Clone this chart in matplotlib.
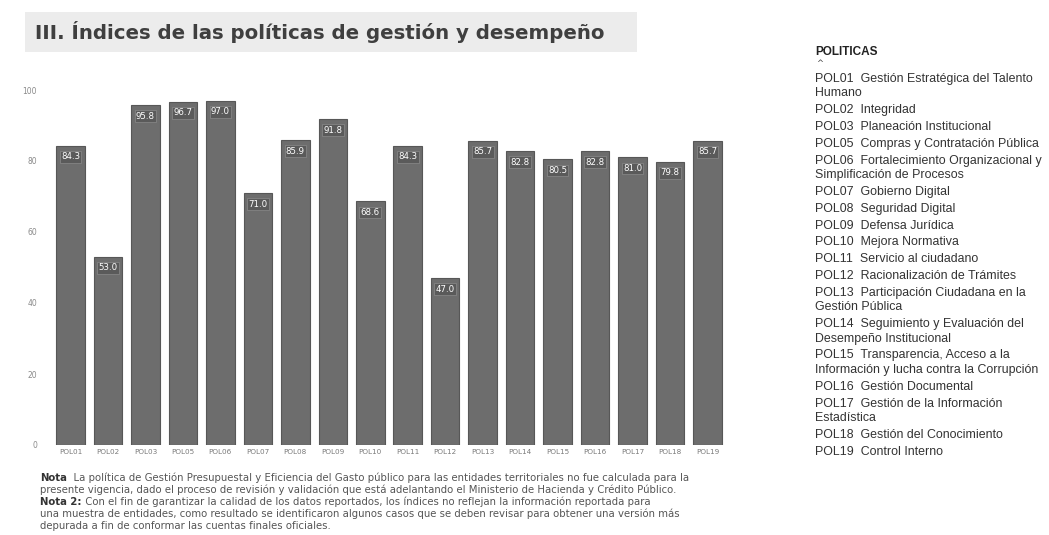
import matplotlib
matplotlib.use("Agg")
import matplotlib.pyplot as plt
from matplotlib.patches import Rectangle

# ---- data ----
politicas = ["POL01", "POL02", "POL03", "POL05", "POL06", "POL07", "POL08", "POL09", "POL10",
             "POL11", "POL12", "POL13", "POL14", "POL15", "POL16", "POL17", "POL18", "POL19"]
indices = [84.3, 53.0, 95.8, 96.7, 97.0, 71.0, 85.9, 91.8, 68.6,
           84.3, 47.0, 85.7, 82.8, 80.5, 82.8, 81.0, 79.8, 85.7]
y_ticks = [0, 20, 40, 60, 80, 100]
descripciones = [
    ["Gestión Estratégica del Talento", "Humano"],
    ["Integridad"],
    ["Planeación Institucional"],
    ["Compras y Contratación Pública"],
    ["Fortalecimiento Organizacional y", "Simplificación de Procesos"],
    ["Gobierno Digital"],
    ["Seguridad Digital"],
    ["Defensa Jurídica"],
    ["Mejora Normativa"],
    ["Servicio al ciudadano"],
    ["Racionalización de Trámites"],
    ["Participación Ciudadana en la", "Gestión Pública"],
    ["Seguimiento y Evaluación del", "Desempeño Institucional"],
    ["Transparencia, Acceso a la", "Información y lucha contra la Corrupción"],
    ["Gestión Documental"],
    ["Gestión de la Información", "Estadística"],
    ["Gestión del Conocimiento"],
    ["Control Interno"],
]
titulo = "III. Índices de las políticas de gestión y desempeño"
notas = [
    ("Nota", "  La política de Gestión Presupuestal y Eficiencia del Gasto público para las entidades territoriales no fue calculada para la"),
    ("", "presente vigencia, dado el proceso de revisión y validación que está adelantando el Ministerio de Hacienda y Crédito Público."),
    ("Nota 2:", " Con el fin de garantizar la calidad de los datos reportados, los índices no reflejan la información reportada para"),
    ("", "una muestra de entidades, como resultado se identificaron algunos casos que se deben revisar para obtener una versión más"),
    ("", "depurada a fin de conformar las cuentas finales oficiales."),
]

W, H = 1049, 535
fig = plt.figure(figsize=(W / 100, H / 100), dpi=100)
fig.patch.set_facecolor("white")

def fx(px):
    return px / W

def fy(py):
    return 1 - py / H

# title band
fig.patches.append(Rectangle((fx(25), fy(52)), fx(612), 40 / H, transform=fig.transFigure,
                             facecolor="#ececec", edgecolor="none", zorder=0))
fig.text(fx(35), fy(32), titulo, fontsize=14.2, fontweight="bold", color="#3f3f3f",
         va="center", ha="left", family="DejaVu Sans")

# bar chart
ax = fig.add_axes([fx(48), fy(445), fx(682), 355 / H])
x = list(range(len(politicas)))
ax.bar(x, indices, width=0.76, color="#6d6d6d", edgecolor="#575757", linewidth=0.8)
ax.set_xlim(-0.6, len(politicas) - 0.4)
ax.set_ylim(0, 100)
ax.set_yticks(y_ticks)
ax.set_yticklabels([str(t) for t in y_ticks], fontsize=5.5, color="#8a8a8a")
ax.set_xticks(x)
ax.set_xticklabels(politicas, fontsize=5.2, color="#7a7a7a")
ax.tick_params(axis="both", length=0, pad=3)
ax.tick_params(axis="y", pad=8)
for s in ax.spines.values():
    s.set_visible(False)
for xi, v in zip(x, indices):
    ax.annotate(f"{v:.1f}", (xi, v), xytext=(0, -8), textcoords="offset points",
                ha="center", va="center", fontsize=6.2, color="white",
                bbox=dict(boxstyle="square,pad=0.15", facecolor="#5a5a5a", edgecolor="#8a8a8a", linewidth=0.5))

# legend
fig.text(fx(815), fy(52), "POLITICAS", fontsize=8.5, fontweight="bold", color="#222222",
         va="center", ha="left", family="Liberation Sans")
fig.text(fx(816), fy(64), "^", fontsize=6, color="#444444", va="center", ha="left")
yy = 79
for code, lines in zip(politicas, descripciones):
    for j, ln in enumerate(lines):
        txt = f"{code}  {ln}" if j == 0 else ln
        fig.text(fx(815), fy(yy), txt, fontsize=8.9, color="#333333", va="center", ha="left",
                 family="Liberation Sans")
        if j < len(lines) - 1:
            yy += 14.5
    yy += 16.8

# notes
ny = 478
for bold, rest in notas:
    if bold:
        t = fig.text(fx(40), fy(ny), bold, fontsize=7.3, fontweight="bold", color="#333333",
                     va="center", ha="left", family="DejaVu Sans")
        fig.canvas.draw()
        bb = t.get_window_extent()
        fig.text(bb.x1 / W, fy(ny), rest, fontsize=7.3, color="#555555", va="center", ha="left",
                 family="DejaVu Sans")
    else:
        fig.text(fx(40), fy(ny), rest, fontsize=7.3, color="#555555", va="center", ha="left",
                 family="DejaVu Sans")
    ny += 12

fig.savefig("out.png", dpi=100)
